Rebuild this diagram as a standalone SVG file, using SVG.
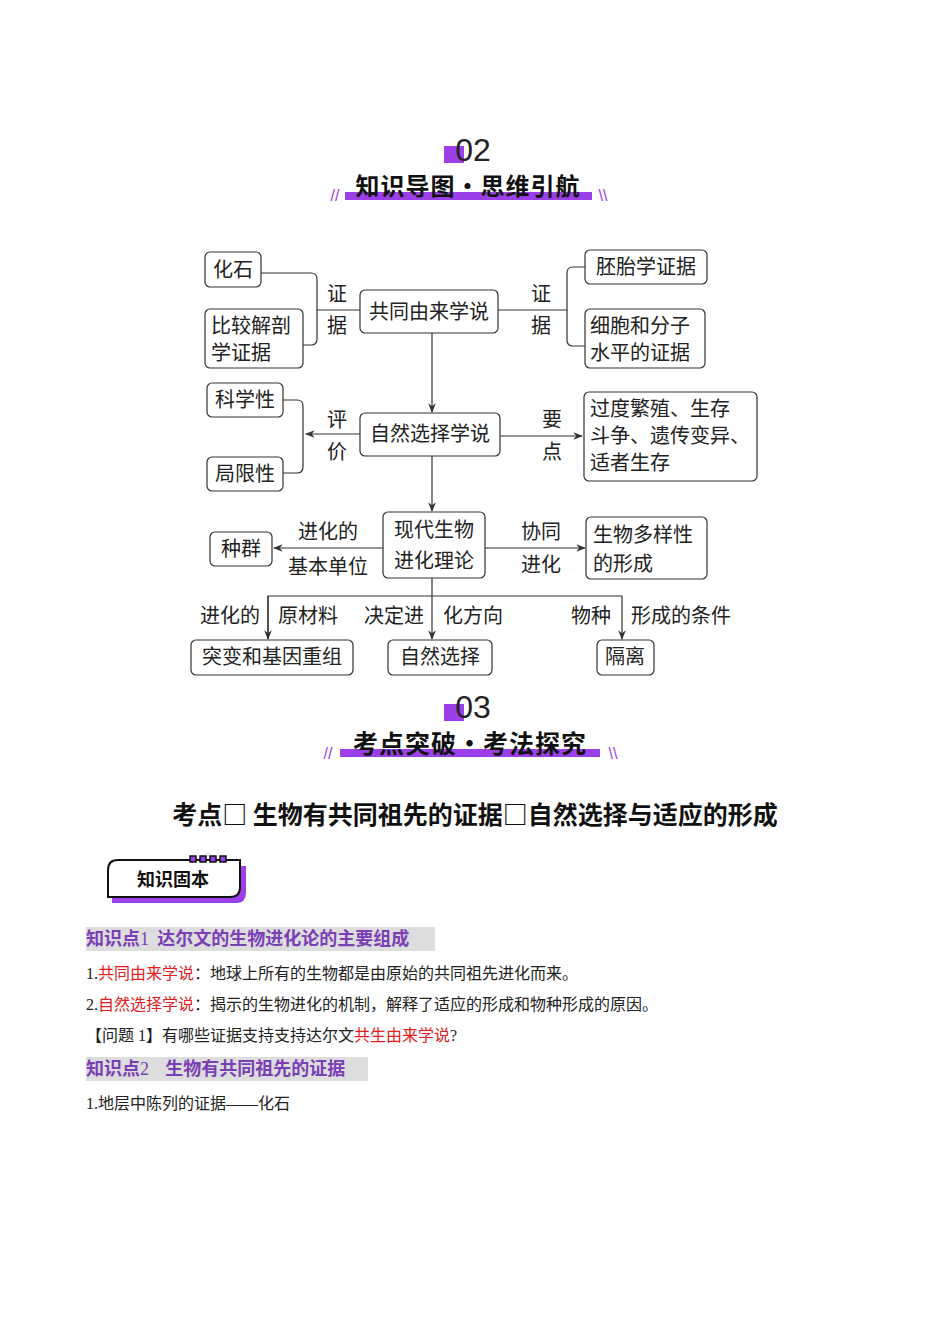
<svg xmlns="http://www.w3.org/2000/svg" width="950" height="1344" viewBox="0 0 950 1344">
<style>
.b{fill:#fff;stroke:#333;stroke-width:1.2}
.t{font-family:"Liberation Serif","Noto Sans CJK SC",serif;font-size:20px;fill:#222}
.c{fill:none;stroke:#333;stroke-width:1.2}
.h{font-family:"Noto Sans CJK SC",sans-serif;font-weight:bold;fill:#111}
.p{font-family:"Liberation Serif","Noto Sans CJK SC",serif;font-size:16px;fill:#222}
.r{fill:#e02020}
.k{font-family:"Noto Sans CJK SC",sans-serif;font-weight:bold;font-size:18px;fill:#7a3fb5}
</style>
<defs><marker id="a" viewBox="0 0 10 10" refX="9" refY="5" markerWidth="8" markerHeight="8" orient="auto"><path d="M0,1 L10,5 L0,9 L3,5z" fill="#333"/></marker></defs>
<rect width="950" height="1344" fill="#fff"/>
<g id="hdr02">
<rect x="444" y="146" width="20" height="17" fill="#9b3fe8"/>
<text x="473" y="161" text-anchor="middle" font-family="Liberation Sans,sans-serif" font-size="32" fill="#222">02</text>
<rect x="345" y="192" width="247" height="8" fill="#9b3fe8"/>
<text x="468" y="195" text-anchor="middle" class="h" font-size="24" letter-spacing="1">知识导图•思维引航</text>
<text x="335" y="201" text-anchor="middle" font-family="Liberation Sans,sans-serif" font-size="16" fill="#9b3fe8">//</text>
<text x="603" y="201" text-anchor="middle" font-family="Liberation Sans,sans-serif" font-size="16" fill="#9b3fe8">\\</text>
</g>
<g id="connectors">
<path class="c" d="M261,273 H311 Q317,273 317,279 V339 Q317,345 311,345 H303 M317,310 H360"/>
<path class="c" d="M498,310 H567 M585,267 H573 Q567,267 567,273 V340 Q567,346 573,346 H585"/>
<path class="c" d="M432,333 V412" marker-end="url(#a)"/>
<path class="c" d="M360,434 H306" marker-end="url(#a)"/>
<path class="c" d="M283,400 H297 Q303,400 303,406 V467 Q303,473 297,473 H283"/>
<path class="c" d="M500,436 H582" marker-end="url(#a)"/>
<path class="c" d="M432,456 V511" marker-end="url(#a)"/>
<path class="c" d="M383,548 H274" marker-end="url(#a)"/>
<path class="c" d="M485,548 H585" marker-end="url(#a)"/>
<path class="c" d="M432,578 V639" marker-end="url(#a)"/>
<path class="c" d="M268,639 V596 H622 V639" marker-end="url(#a)"/>
<path class="c" d="M268,596 V639" marker-end="url(#a)"/>
</g>
<g id="labels">
<text class="t" x="337" y="301" text-anchor="middle">证</text>
<text class="t" x="337" y="333" text-anchor="middle">据</text>
<text class="t" x="541" y="301" text-anchor="middle">证</text>
<text class="t" x="541" y="333" text-anchor="middle">据</text>
<text class="t" x="337" y="427" text-anchor="middle">评</text>
<text class="t" x="337" y="459" text-anchor="middle">价</text>
<text class="t" x="552" y="427" text-anchor="middle">要</text>
<text class="t" x="552" y="459" text-anchor="middle">点</text>
<text class="t" x="328" y="539" text-anchor="middle">进化的</text>
<text class="t" x="328" y="574" text-anchor="middle">基本单位</text>
<text class="t" x="541" y="539" text-anchor="middle">协同</text>
<text class="t" x="541" y="572" text-anchor="middle">进化</text>
<text class="t" x="230" y="623" text-anchor="middle">进化的</text>
<text class="t" x="308" y="623" text-anchor="middle">原材料</text>
<text class="t" x="394" y="623" text-anchor="middle">决定进</text>
<text class="t" x="473" y="623" text-anchor="middle">化方向</text>
<text class="t" x="591" y="623" text-anchor="middle">物种</text>
<text class="t" x="681" y="623" text-anchor="middle">形成的条件</text>
</g>
<g id="n1"><rect class="b" x="205" y="252" width="56" height="35" rx="5"/><text class="t" x="233" y="277" text-anchor="middle">化石</text></g>
<g id="n2"><rect class="b" x="205" y="309" width="98" height="59" rx="5"/><text class="t" x="211" y="333">比较解剖</text><text class="t" x="211" y="360">学证据</text></g>
<g id="n3"><rect class="b" x="360" y="290" width="138" height="43" rx="5"/><text class="t" x="429" y="319" text-anchor="middle">共同由来学说</text></g>
<g id="n4"><rect class="b" x="585" y="250" width="122" height="34" rx="5"/><text class="t" x="646" y="274" text-anchor="middle">胚胎学证据</text></g>
<g id="n5"><rect class="b" x="585" y="309" width="120" height="59" rx="5"/><text class="t" x="590" y="333">细胞和分子</text><text class="t" x="590" y="360">水平的证据</text></g>
<g id="n6"><rect class="b" x="207" y="383" width="76" height="34" rx="5"/><text class="t" x="245" y="407" text-anchor="middle">科学性</text></g>
<g id="n7"><rect class="b" x="207" y="457" width="76" height="34" rx="5"/><text class="t" x="245" y="481" text-anchor="middle">局限性</text></g>
<g id="n8"><rect class="b" x="360" y="413" width="140" height="43" rx="5"/><text class="t" x="430" y="441" text-anchor="middle">自然选择学说</text></g>
<g id="n9"><rect class="b" x="584" y="392" width="173" height="89" rx="5"/><text class="t" x="590" y="416">过度繁殖、生存</text><text class="t" x="590" y="443">斗争、遗传变异、</text><text class="t" x="590" y="470">适者生存</text></g>
<g id="n10"><rect class="b" x="383" y="512" width="102" height="66" rx="5"/><text class="t" x="434" y="537" text-anchor="middle">现代生物</text><text class="t" x="434" y="568" text-anchor="middle">进化理论</text></g>
<g id="n11"><rect class="b" x="210" y="532" width="62" height="34" rx="5"/><text class="t" x="241" y="556" text-anchor="middle">种群</text></g>
<g id="n12"><rect class="b" x="586" y="517" width="121" height="62" rx="5"/><text class="t" x="593" y="542">生物多样性</text><text class="t" x="593" y="571">的形成</text></g>
<g id="n13"><rect class="b" x="191" y="640" width="162" height="35" rx="5"/><text class="t" x="272" y="664" text-anchor="middle">突变和基因重组</text></g>
<g id="n14"><rect class="b" x="388" y="640" width="104" height="35" rx="5"/><text class="t" x="440" y="664" text-anchor="middle">自然选择</text></g>
<g id="n15"><rect class="b" x="597" y="640" width="57" height="35" rx="5"/><text class="t" x="625" y="664" text-anchor="middle">隔离</text></g>
<g id="hdr03">
<rect x="444" y="704" width="20" height="17" fill="#9b3fe8"/>
<text x="473" y="718" text-anchor="middle" font-family="Liberation Sans,sans-serif" font-size="32" fill="#222">03</text>
<rect x="340" y="749" width="260" height="8" fill="#9b3fe8"/>
<text x="470" y="753" text-anchor="middle" class="h" font-size="25" letter-spacing="1">考点突破•考法探究</text>
<text x="328" y="759" text-anchor="middle" font-family="Liberation Sans,sans-serif" font-size="16" fill="#9b3fe8">//</text>
<text x="613" y="759" text-anchor="middle" font-family="Liberation Sans,sans-serif" font-size="16" fill="#9b3fe8">\\</text>
</g>
<text x="475" y="824" text-anchor="middle" class="h" font-size="25">考点□  生物有共同祖先的证据□自然选择与适应的形成</text>
<g id="badge">
<path d="M116,866 Q112,866 112,872 V903 H236 Q246,903 246,893 V866 Z" fill="#9b3fe8"/>
<path d="M118,860 Q108,860 108,870 V897 H230 Q240,897 240,887 V860 Z" fill="#fff" stroke="#111" stroke-width="2"/>
<g fill="#9b3fe8" stroke="#111" stroke-width="1.5"><rect x="190" y="856" width="6" height="6"/><rect x="200" y="856" width="6" height="6"/><rect x="210" y="856" width="6" height="6"/><rect x="220" y="856" width="6" height="6"/></g>
<text x="173" y="886" text-anchor="middle" class="h" font-size="18">知识固本</text>
</g>
<rect x="86" y="927" width="349" height="24" fill="#ddd"/>
<text x="86" y="945" class="k" xml:space="preserve">知识点<tspan font-family="Liberation Serif,serif" font-weight="normal">1</tspan>  达尔文的生物进化论的主要组成</text>
<text x="86" y="979" class="p">1.<tspan class="r">共同由来学说</tspan>：地球上所有的生物都是由原始的共同祖先进化而来。</text>
<text x="86" y="1010" class="p">2.<tspan class="r">自然选择学说</tspan>：揭示的生物进化的机制，解释了适应的形成和物种形成的原因。</text>
<text x="86" y="1041" class="p">【问题 1】有哪些证据支持支持达尔文<tspan class="r">共生由来学说</tspan>?</text>
<rect x="86" y="1057" width="282" height="24" fill="#ddd"/>
<text x="86" y="1075" class="k" xml:space="preserve">知识点<tspan font-family="Liberation Serif,serif" font-weight="normal">2</tspan>    生物有共同祖先的证据</text>
<text x="86" y="1109" class="p">1.地层中陈列的证据——化石</text>
</svg>
